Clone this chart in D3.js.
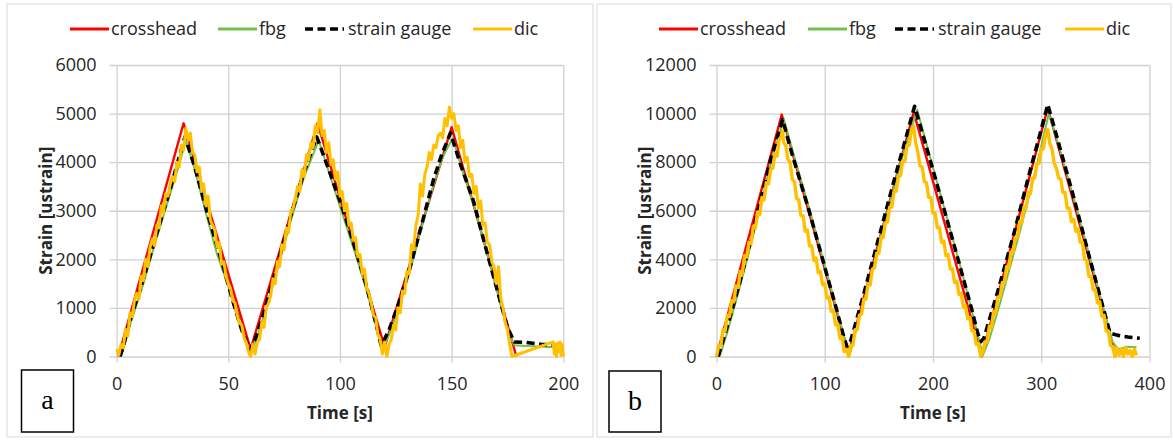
<!DOCTYPE html>
<html><head><meta charset="utf-8">
<script src="https://cdn.jsdelivr.net/npm/d3@7"></script>
<style>body{margin:0;background:#fff}svg{display:block}</style>
</head><body><svg id="c" width="1174" height="441"></svg>
<script>
// ---------------- DATA ----------------
const seriesNames = ["crosshead", "fbg", "strain gauge", "dic"];
const xTicksA = [0, 50, 100, 150, 200];
const yTicksA = [0, 1000, 2000, 3000, 4000, 5000, 6000];
const xTicksB = [0, 100, 200, 300, 400];
const yTicksB = [0, 2000, 4000, 6000, 8000, 10000, 12000];
const xTitle = "Time [s]";
const yTitle = "Strain [ustrain]";

// Panel a  [time s, strain]
const crossheadA = [[0.8,0],[30,4800],[60,150],[90,4800],[120,200],[150,4720],[179,0]];
const fbgA = [[2,0],[6,650],[12,1500],[18,2450],[24,3350],[28,3950],[31,4450],[35,3850],[40,2950],[45,2100],[50,1450],[55,650],[60,80],[63,400],[67,1000],[72,1800],[78,2800],[84,3700],[90.5,4450],[95,3800],[101,2950],[107,2100],[112,1350],[116,650],[119,150],[122,450],[126,950],[131,1700],[136,2550],[142,3550],[146,4100],[150.5,4500],[155,3800],[160,3100],[166,2100],[172,1050],[175.5,500],[178,230],[186,210],[196,190]];
const gaugeA = [[1.5,0],[3,200],[6,740],[12,1600],[18,2530],[24,3450],[28,4100],[30.6,4520],[35,3900],[40.3,3007],[47.8,1840],[52,1150],[56,550],[59.7,130],[62,350],[66,900],[71.7,1840],[78,2900],[84,3800],[89.6,4520],[95,3850],[101.5,3007],[107,2200],[112,1430],[116,700],[118.5,220],[122,550],[126,1050],[131.4,1840],[136.5,2700],[141.8,3625],[145.5,4150],[149.5,4600],[154,3950],[159.7,3213],[165.5,2200],[171.7,1153],[175,600],[178,300],[183,290],[190,250],[195,240]];
const dicA = [[0,150],[1,30],[2,250],[3,180],[4,560],[5,420],[6,900],[7,820],[8,1150],[9,1300],[10,1180],[11,1650],[12,1560],[13,2000],[14,1850],[15,2250],[16,2420],[17,2280],[18,2700],[19,2650],[20,3100],[21,2950],[22,3350],[23,3300],[24,3550],[25,3700],[26,3600],[27,4000],[28,3900],[29,4350],[30,4250],[31,4700],[32,4450],[33,4600],[34,4200],[35,4150],[36,3800],[37,3900],[38,3450],[39,3550],[40,3100],[41,3300],[42,2800],[43,2700],[44,2600],[45,2250],[46,2350],[47,1900],[48,1950],[49,1650],[50,1500],[51,1400],[52,1150],[53,1100],[54,850],[55,700],[56,650],[57,400],[58,300],[59,100],[60,0],[61,250],[62,50],[63,300],[64,350],[65,700],[66,600],[67,1000],[68,1100],[69,1250],[70,1600],[71,1500],[72,1950],[73,1850],[74,2300],[75,2200],[76,2650],[77,2550],[78,3000],[79,3050],[80,3250],[81,3500],[82,3400],[83,3850],[84,3700],[85,4150],[86,4050],[87,4400],[88,4300],[89,4750],[90,4600],[91,5080],[92,4550],[93,4650],[94,4200],[95,4400],[96,3950],[97,4050],[98,3650],[99,3800],[100,3300],[101,3400],[102,3000],[103,3150],[104,2700],[105,2750],[106,2400],[107,2450],[108,2050],[109,2100],[110,1700],[111,1800],[112,1400],[113,1300],[114,1100],[115,850],[116,800],[117,450],[118,350],[119,50],[120,300],[121,0],[122,250],[123,350],[124,650],[125,550],[126,1000],[127,900],[128,1350],[129,1300],[130,1750],[131,1700],[132,2300],[133,2200],[134,2700],[135,2900],[136,3550],[137,3300],[138,3750],[139,3900],[140,4200],[141,4050],[142,4350],[143,4300],[144,4550],[145,4600],[146,4500],[147,4900],[148,4750],[149,5130],[150,4900],[151,5000],[152,4650],[153,4750],[154,4300],[155,4450],[156,4000],[157,4100],[158,3700],[159,3750],[160,3350],[161,3500],[162,3050],[163,3200],[164,2700],[165,2750],[166,2350],[167,2300],[168,1950],[169,1850],[170,1500],[171,1850],[172,1200],[173,1000],[174,700],[175,550],[176,250],[177,0],[195.5,300],[196,50],[196.5,250],[197,0],[197.5,280],[198,100],[198.5,300],[199,30],[199.5,250],[200,0]];

// Panel b
const crossheadB = [[0,0],[60.3,9960],[122,100],[182.2,10060],[245,0],[306,10230],[369,0]];
const fbgB = [[3,0],[10,1000],[20,2600],[30,4300],[40,6100],[50,7900],[62,9800],[72,8200],[86,6050],[98.5,4000],[111,1950],[118,800],[123,50],[128,900],[140,2900],[155,5500],[170,8000],[185.4,10160],[197,8250],[211,6000],[226,3600],[238,1500],[246,50],[252,700],[262,2200],[280,5100],[295,7700],[307,10000],[318,8400],[332,6200],[346,3900],[358,1900],[366,600],[371,300],[380,400],[388,380]];
const gaugeB = [[1.5,0],[10,1250],[20,2800],[30,4500],[40,6300],[50,8100],[61,9750],[70,8300],[85.5,6000],[98,4000],[110.5,2000],[117,900],[120.5,400],[124,650],[135,2400],[150,4900],[165,7400],[175,9000],[183,10300],[195,8450],[210,6100],[225,3700],[236,1900],[241,1000],[244,610],[247,750],[260,2700],[275,5100],[290,7700],[300,9350],[306,10370],[315,8950],[330,6550],[345,4000],[356,2200],[363.6,960],[370,880],[380,800],[391,750]];
const dicB = [[0,0],[2,450],[4,450],[6,1100],[8,1050],[10,1700],[12,1650],[14,2300],[16,2250],[18,2900],[20,2850],[22,3500],[24,3450],[26,4150],[28,4100],[30,4700],[32,4650],[34,5350],[36,5300],[38,5950],[40,5850],[42,6550],[44,6450],[46,7150],[48,7100],[50,7700],[52,7750],[54,8350],[56,8250],[58,8950],[60,9000],[61,9300],[62,8800],[64,8700],[66,8100],[68,8000],[70,7300],[72,7200],[74,6500],[76,6450],[78,5800],[80,5800],[82,5150],[84,5200],[86,4550],[88,4550],[90,3950],[92,4050],[94,3450],[96,3500],[98,2950],[100,3000],[102,2400],[104,2450],[106,1850],[108,1900],[110,1300],[112,1350],[114,750],[116,800],[118,200],[120,300],[122,0],[124,450],[126,450],[128,1100],[130,1100],[132,1700],[134,1750],[136,2350],[138,2350],[140,3000],[142,2950],[144,3600],[146,3650],[148,4250],[150,4250],[152,4900],[154,4900],[156,5500],[158,5550],[160,6150],[162,6150],[164,6800],[166,6800],[168,7400],[170,7450],[172,8050],[174,8050],[176,8700],[178,8700],[180,9300],[182,9480],[184,8800],[186,8400],[188,7850],[190,7800],[192,7200],[194,7150],[196,6550],[198,6550],[200,5900],[202,5900],[204,5300],[206,5300],[208,4700],[210,4750],[212,4150],[214,4200],[216,3600],[218,3600],[220,3050],[222,3100],[224,2550],[226,2600],[228,2050],[230,2100],[232,1550],[234,1600],[236,1050],[238,1050],[240,500],[242,550],[244,0],[246,200],[248,600],[250,600],[252,1250],[254,1200],[256,1850],[258,1800],[260,2450],[262,2450],[264,3050],[266,3050],[268,3700],[270,3650],[272,4300],[274,4300],[276,4900],[278,4900],[280,5550],[282,5500],[284,6150],[286,6100],[288,6750],[290,6700],[292,7350],[294,7350],[296,7950],[298,7950],[300,8550],[302,8550],[304,9150],[306,9340],[308,8750],[310,8550],[312,7950],[314,7750],[316,7350],[318,7300],[320,6750],[322,6750],[324,6100],[326,6100],[328,5550],[330,5650],[332,5150],[334,5250],[336,4700],[338,4700],[340,4000],[342,3950],[344,3300],[346,3300],[348,2750],[350,2750],[352,2200],[354,2250],[356,1650],[358,1700],[360,1050],[362,1050],[364,450],[366,400],[368,0],[370,350],[372,50],[374,300],[376,0],[378,380],[380,100],[382,250],[384,0],[386,300],[388,50]];

// ---------------- DRAW ----------------
const svg = d3.select("#c");
const FONT = "'Open Sans', sans-serif";
const styles = [
  {color:"#ff0000", width:2.4, dash:null},
  {color:"#74c04c", width:2, dash:null},
  {color:"#000000", width:3.6, dash:"8,4.5"},
  {color:"#ffc000", width:3, dash:null}
];

function panel(cfg) {
  const g = svg.append("g");
  g.append("rect").attr("x", cfg.frame[0]).attr("y", cfg.frame[1])
    .attr("width", cfg.frame[2]).attr("height", cfg.frame[3])
    .attr("fill", "none").attr("stroke", "#d9d9d9").attr("stroke-width", 1);

  const x = d3.scaleLinear().domain(cfg.xDomain).range([cfg.left, cfg.right]);
  const y = d3.scaleLinear().domain(cfg.yDomain).range([cfg.bottom, cfg.top]);
  const w = cfg.right - cfg.left, h = cfg.bottom - cfg.top;

  const ya = g.append("g").attr("transform", `translate(${cfg.left - 7},0)`)
    .call(d3.axisLeft(y).tickValues(cfg.yTicks).tickSize(-(w + 7)).tickPadding(13).tickFormat(d3.format("d")));
  const xa = g.append("g").attr("transform", `translate(0,${cfg.bottom + 6})`)
    .call(d3.axisBottom(x).tickValues(cfg.xTicks).tickSize(-(h + 6)).tickPadding(15).tickFormat(d3.format("d")));
  [ya, xa].forEach(a => {
    a.select(".domain").remove();
    a.selectAll(".tick line").attr("stroke", "#d0d0d0").attr("stroke-width", 1.3);
    a.selectAll(".tick text").attr("font-family", FONT).attr("font-size", 18).attr("fill", "#262626");
  });

  const line = d3.line().x(d => x(d[0])).y(d => y(d[1]));
  cfg.series.forEach((s, i) => {
    const st = styles[i];
    g.append("path").datum(s).attr("d", line).attr("fill", "none")
      .attr("stroke", st.color).attr("stroke-width", i === 3 ? cfg.dicWidth : st.width)
      .attr("stroke-dasharray", st.dash).attr("stroke-linejoin", "round");
  });

  // legend
  seriesNames.forEach((n, i) => {
    const st = styles[i];
    const lx = cfg.legendX[i];
    g.append("line").attr("x1", lx).attr("x2", lx + 39).attr("y1", 29).attr("y2", 29)
      .attr("stroke", st.color).attr("stroke-width", i === 2 ? 3.6 : 3)
      .attr("stroke-dasharray", st.dash);
    g.append("text").attr("x", lx + (i === 2 ? 43 : 41)).attr("y", 29).attr("dy", "0.35em")
      .attr("font-family", FONT).attr("font-size", 18).attr("fill", "#262626").text(n);
  });

  // axis titles
  g.append("text").attr("x", (cfg.left + cfg.right) / 2).attr("y", 419)
    .attr("text-anchor", "middle").attr("font-family", FONT).attr("font-weight", "bold")
    .attr("font-size", 17).attr("fill", "#262626").text(xTitle);
  g.append("text").attr("transform", `translate(${cfg.left - 71},${(cfg.top + cfg.bottom) / 2}) rotate(-90)`)
    .attr("text-anchor", "middle").attr("dy", "0.35em").attr("font-family", FONT).attr("font-weight", "bold")
    .attr("font-size", 17).attr("fill", "#262626").text(yTitle);

  // panel letter box
  g.append("rect").attr("x", cfg.box[0]).attr("y", cfg.box[1]).attr("width", cfg.box[2]).attr("height", cfg.box[3])
    .attr("fill", "#fff").attr("stroke", "#000").attr("stroke-width", 1.5);
  g.append("text").attr("x", cfg.box[0] + cfg.box[2] / 2).attr("y", cfg.box[1] + cfg.box[3] / 2 + 8)
    .attr("text-anchor", "middle").attr("font-family", "'Liberation Serif', 'Times New Roman', serif")
    .attr("font-size", 28).attr("fill", "#000").text(cfg.letter);
}

panel({
  frame: [7, 4, 586, 433],
  left: 116.6, right: 563.3, top: 65, bottom: 356.5,
  xDomain: [0, 200], yDomain: [0, 6000],
  xTicks: xTicksA, yTicks: yTicksA,
  series: [crossheadA, fbgA, gaugeA, dicA],
  legendX: [70, 218, 305, 473],
  dicWidth: 3,
  box: [21.5, 370, 52, 62], letter: "a"
});
panel({
  frame: [597, 4, 574, 433],
  left: 716.5, right: 1149.5, top: 65, bottom: 356.5,
  xDomain: [0, 400], yDomain: [0, 12000],
  xTicks: xTicksB, yTicks: yTicksB,
  series: [crossheadB, fbgB, gaugeB, dicB],
  legendX: [659, 808, 895, 1065],
  dicWidth: 3.4,
  box: [609, 371, 52, 61], letter: "b"
});
</script>
</body></html>
